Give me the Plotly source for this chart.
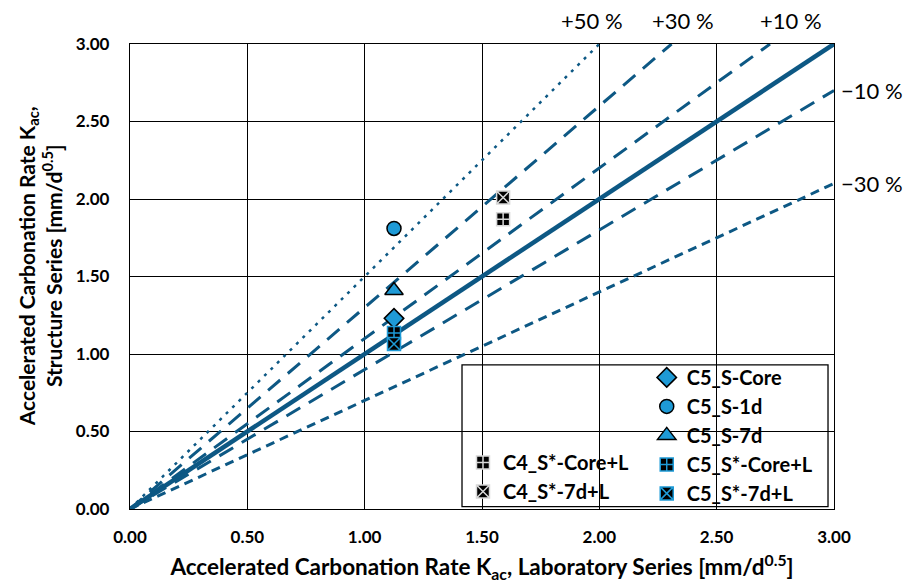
import plotly.graph_objects as go

# ---- data ----
series_names = ["C5_S-Core", "C5_S-1d", "C5_S-7d", "C5_S*-Core+L", "C5_S*-7d+L",
                "C4_S*-Core+L", "C4_S*-7d+L"]
lab_x = [1.125, 1.125, 1.125, 1.125, 1.125, 1.59, 1.59]
struct_y = [1.23, 1.81, 1.41, 1.135, 1.065, 1.87, 2.01]

line_factors = [1.0, 1.1, 0.9, 1.3, 0.7, 1.5]
line_labels = ["", "+10 %", "\u221210 %", "+30 %", "\u221230 %", "+50 %"]

tick_vals = [0.0, 0.5, 1.0, 1.5, 2.0, 2.5, 3.0]
tick_text = ["0.00", "0.50", "1.00", "1.50", "2.00", "2.50", "3.00"]
axis_max = 3.0

x_title = "<b>Accelerated Carbonation Rate K<sub>ac</sub>, Laboratory Series [mm/d<sup>0.5</sup>]</b>"
y_title = "<b>Accelerated Carbonation Rate K<sub>ac</sub>,<br>Structure Series [mm/d<sup>0.5</sup>]</b>"

LINE = "#0D5884"
BLUE = "#1E9AD6"
FONT = "Lato"

fig = go.Figure()

styles = {
    1.0: dict(width=4.5, dash="solid"),
    1.1: dict(width=3, dash="16px,10px"),
    0.9: dict(width=3, dash="16px,10px"),
    1.3: dict(width=3, dash="16px,10px"),
    0.7: dict(width=3, dash="9px,6px"),
    1.5: dict(width=2.5, dash="3px,6px"),
}
for k in line_factors:
    xe = min(axis_max, axis_max / k)
    fig.add_trace(go.Scatter(x=[0, xe], y=[0, k * xe], mode="lines",
                             line=dict(color=LINE, **styles[k]),
                             showlegend=False, hoverinfo="skip"))

marker_styles = {
    "C5_S-Core": dict(symbol="diamond", color=BLUE, size=15, line=dict(color="black", width=1.5)),
    "C5_S-1d": dict(symbol="circle", color=BLUE, size=14, line=dict(color="black", width=1.5)),
    "C5_S-7d": dict(symbol="triangle-up", color=BLUE, size=16, line=dict(color="black", width=1.5)),
    "C5_S*-Core+L": dict(symbol="square-cross", color="black", size=13, line=dict(color=BLUE, width=1.5)),
    "C5_S*-7d+L": dict(symbol="square-x", color="black", size=13, line=dict(color=BLUE, width=1.5)),
    "C4_S*-Core+L": dict(symbol="square-cross", color="black", size=13, line=dict(color="#d8d8d8", width=1.5)),
    "C4_S*-7d+L": dict(symbol="square-x", color="black", size=13, line=dict(color="#d8d8d8", width=1.5)),
}
for name, xv, yv in zip(series_names, lab_x, struct_y):
    leg = "legend2" if name.startswith("C4") else "legend"
    fig.add_trace(go.Scatter(x=[xv], y=[yv], mode="markers", name="<b>" + name + "</b>",
                             marker=marker_styles[name], legend=leg))

# percent labels (positions along the top edge)
top_label_x = {"+50 %": 1.97, "+30 %": 2.355, "+10 %": 2.815}
annotations = []
for k, lab in zip(line_factors, line_labels):
    if not lab:
        continue
    if k > 1:
        annotations.append(dict(text=lab, x=top_label_x[lab], xref="x", y=1.0, yref="paper",
                                xanchor="center", yanchor="bottom", yshift=8,
                                showarrow=False, font=dict(size=22, color="black", family=FONT)))
    else:
        annotations.append(dict(text=lab, x=1.0, xref="paper", y=k * axis_max, yref="y",
                                xanchor="left", yanchor="middle", xshift=5,
                                showarrow=False, font=dict(size=22, color="black", family=FONT)))

# y-axis title as a rotated annotation for exact placement
annotations.append(dict(text=y_title, x=0, xref="paper", xshift=-90, y=0.522, yref="paper",
                        xanchor="center", yanchor="middle", textangle=-90, showarrow=False,
                        font=dict(size=21, color="black", family=FONT, weight="bold")))

axis_common = dict(range=[0, axis_max], tickvals=tick_vals, ticktext=tick_text,
                   showgrid=True, gridcolor="black", gridwidth=1.3,
                   showline=True, linecolor="black", linewidth=1.3, mirror=True,
                   zeroline=False, ticks="", automargin=False,
                   tickfont=dict(size=17, color="black", family=FONT, weight="bold"))

fig.update_layout(
    width=910, height=583,
    margin=dict(l=130, r=76, t=44, b=74, autoexpand=False),
    paper_bgcolor="white", plot_bgcolor="white",
    font=dict(family=FONT, color="black"),
    xaxis=dict(**axis_common, ticklabelstandoff=12,
               title=dict(text=x_title,
                          font=dict(size=22.5, color="black", family=FONT, weight="bold"))),
    yaxis=dict(**axis_common, ticklabelstandoff=16),
    legend=dict(x=0.734, y=0.325, xanchor="left", yanchor="top", bgcolor="rgba(0,0,0,0)",
                font=dict(size=20, color="black", family=FONT, weight="bold"),
                tracegroupgap=0, itemwidth=30),
    legend2=dict(x=0.473, y=0.142, xanchor="left", yanchor="top", bgcolor="rgba(0,0,0,0)",
                 font=dict(size=20, color="black", family=FONT, weight="bold"),
                 tracegroupgap=0, itemwidth=30),
    shapes=[dict(type="rect", xref="paper", yref="paper", x0=0.4716, x1=0.9915, y0=0.005, y1=0.31,
                 fillcolor="white", line=dict(color="black", width=1.3), layer="between")],
    annotations=annotations,
)

fig.write_html("out.html", config={"displayModeBar": False},
               post_script="document.body.style.margin='0px';")
